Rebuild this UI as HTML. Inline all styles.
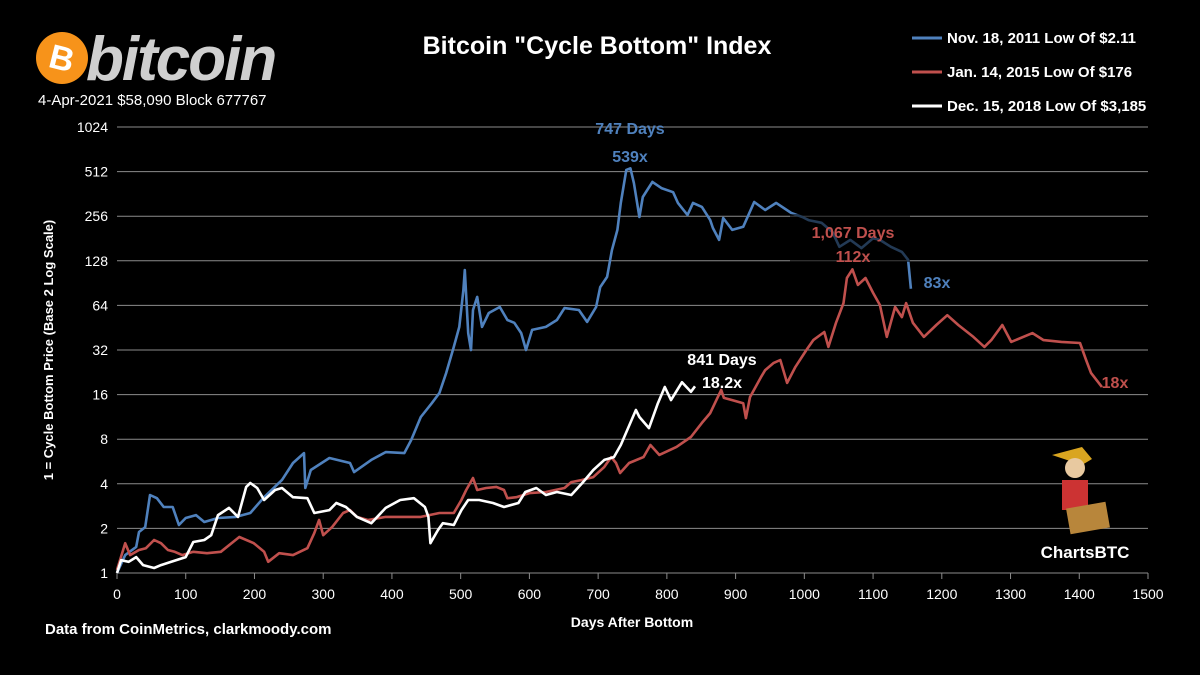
<!DOCTYPE html>
<html><head><meta charset="utf-8"><style>
html,body{margin:0;padding:0;background:#000;}
svg{display:block;font-family:"Liberation Sans",Arial,sans-serif;}
</style></head><body>
<svg id="chart" width="1200" height="675" viewBox="0 0 1200 675">
<rect width="1200" height="675" fill="#000"/>
<g>
<circle cx="62" cy="58" r="26" fill="#f7931a"/>
<text x="62" y="70" text-anchor="middle" fill="#fff" font-size="34" font-weight="bold" transform="rotate(14 62 58)">B</text>
<text x="86" y="80" fill="#cfcfcf" font-size="62" font-weight="bold" font-style="italic" letter-spacing="-2">bitcoin</text>
</g>
<text x="38" y="105" fill="#fff" font-size="15">4-Apr-2021 $58,090 Block 677767</text>
<text x="597" y="54" text-anchor="middle" fill="#fff" font-size="25" font-weight="bold">Bitcoin "Cycle Bottom" Index</text>
<g id="grid"></g>
<g id="yticks"></g>
<g id="xticks"></g>
<text transform="translate(53 350) rotate(-90)" text-anchor="middle" fill="#fff" font-size="13" font-weight="bold">1 = Cycle Bottom Price  (Base 2 Log Scale)</text>
<text x="632" y="627" text-anchor="middle" fill="#fff" font-size="14" font-weight="bold">Days After Bottom</text>
<text x="45" y="634" fill="#fff" font-size="15" font-weight="bold">Data from CoinMetrics, clarkmoody.com</text>
<g id="series"></g>
<g>
<g><line x1="912" y1="38" x2="942" y2="38" stroke="#4f81bd" stroke-width="3"/><text x="947" y="43" fill="#fff" font-size="15" font-weight="bold">Nov. 18, 2011 Low Of $2.11</text></g>
<g><line x1="912" y1="72" x2="942" y2="72" stroke="#c0504d" stroke-width="3"/><text x="947" y="77" fill="#fff" font-size="15" font-weight="bold">Jan. 14, 2015 Low Of $176</text></g>
<g><line x1="912" y1="106" x2="942" y2="106" stroke="#fff" stroke-width="3"/><text x="947" y="111" fill="#fff" font-size="15" font-weight="bold">Dec. 15, 2018 Low Of $3,185</text></g>
</g>
<g font-size="16" font-weight="bold" text-anchor="middle">
<text x="630" y="134" fill="#4f81bd">747 Days</text>
<text x="630" y="162" fill="#4f81bd">539x</text>
<text x="853" y="238" fill="#c0504d">1,067 Days</text>
<text x="853" y="262" fill="#c0504d">112x</text>
<text x="937" y="288" fill="#4f81bd">83x</text>
<text x="722" y="365" fill="#fff">841 Days</text>
<text x="722" y="388" fill="#fff">18.2x</text>
<text x="1115" y="388" fill="#c0504d">18x</text>
</g>
<g>
<path d="M1052 455 l30 -8 l10 12 l-10 6 z" fill="#d9a520"/>
<circle cx="1075" cy="468" r="10" fill="#e8c9a0"/>
<rect x="1062" y="480" width="26" height="30" fill="#c33"/>
<rect x="1068" y="505" width="40" height="26" fill="#b8863b" transform="rotate(-10 1088 518)"/>
<text x="1085" y="558" text-anchor="middle" fill="#fff" font-size="17" font-weight="bold">ChartsBTC</text>
</g>
</svg>
<script>
const yTickLabels=[1,2,4,8,16,32,64,128,256,512,1024];
const xTickLabels=[0,100,200,300,400,500,600,700,800,900,1000,1100,1200,1300,1400,1500];
const days2011=[0,12,28,32,41,48,58,68,81,90,100,115,127,147,173,194,214,240,256,272,274,282,309,339,345,370,391,418,428,442,458,469,479,490,498,504,506,511,515,518,524,531,541,557,568,578,588,595,604,624,640,651,672,684,697,703,713,720,728,733,741,747,752,760,765,779,792,809,816,830,838,851,863,867,876,882,895,911,927,943,959,981,997,1006,1025,1041,1051,1067,1083,1100,1110,1126,1142,1151,1155];
const values2011=[1,1.32,1.5,1.89,2.04,3.36,3.2,2.79,2.79,2.11,2.35,2.46,2.21,2.35,2.39,2.54,3.25,4.25,5.53,6.45,3.75,4.96,5.97,5.53,4.8,5.8,6.55,6.45,7.9,11.3,14,16.4,22.4,33.6,45.8,81.5,111,41.6,32,59.6,73,45.8,56.9,62.4,51,48.8,41.6,32,43.7,45.8,51,61.4,59.6,49.5,62.4,85,99.6,151,207,315,526,539,428,253,345,436,396,372,315,261,315,296,241,213,177,249,207,217,319,282,315,269,253,241,231,200,159,177,156,182,177,159,147,130,83];
const days2015=[0,12,19,32,42,54,64,74,84,95,111,131,151,178,199,214,220,236,256,277,287,294,300,313,329,339,349,365,391,418,442,469,490,501,508,518,524,537,552,563,568,581,600,624,651,661,677,693,709,719,726,732,745,766,776,789,814,835,851,863,879,883,895,911,915,921,937,943,955,965,975,987,1003,1013,1029,1035,1046,1057,1062,1070,1078,1089,1100,1110,1120,1132,1142,1148,1158,1174,1192,1208,1224,1246,1262,1272,1288,1301,1332,1348,1374,1401,1410,1417,1433];
const values2015=[1.05,1.59,1.32,1.43,1.47,1.67,1.59,1.43,1.39,1.32,1.39,1.36,1.39,1.75,1.59,1.39,1.19,1.36,1.32,1.47,1.86,2.28,1.8,2.04,2.54,2.66,2.39,2.28,2.39,2.39,2.39,2.54,2.54,3.11,3.63,4.38,3.63,3.75,3.81,3.63,3.2,3.25,3.46,3.52,3.75,4.11,4.25,4.44,5.2,6.06,5.53,4.73,5.53,6.06,7.31,6.27,7.1,8.28,10.3,12,17.2,15.2,14.7,14,11.1,15.4,21,23.4,26.1,27.4,19.2,24.6,32,37.3,42.3,33.6,48.8,66.3,97.9,112,88,97.9,77.7,64.4,39.2,62.4,53.4,66.3,48.8,39.2,47.2,55,47.2,39.2,33.6,37.3,47.2,36.3,41.6,37.3,36.3,35.7,27.4,22.4,18];
const days2018=[0,6,17,28,38,54,64,79,100,111,127,137,147,163,176,188,194,204,214,230,240,256,277,287,309,319,333,349,370,391,412,432,448,453,456,467,474,490,501,511,527,547,563,584,594,610,624,640,661,677,693,709,723,733,755,760,774,787,797,806,822,835,841];
const values2018=[1,1.22,1.19,1.28,1.13,1.08,1.13,1.19,1.28,1.62,1.67,1.8,2.46,2.75,2.39,3.81,4.05,3.75,3.11,3.63,3.75,3.25,3.2,2.54,2.66,2.97,2.79,2.39,2.17,2.75,3.11,3.2,2.79,2.39,1.59,1.95,2.17,2.11,2.66,3.11,3.11,2.97,2.79,2.97,3.52,3.75,3.36,3.52,3.36,4.05,4.96,5.8,6.06,7.31,12.6,11.3,9.5,14,18,14.7,19.4,16.7,18.2];

const NS="http://www.w3.org/2000/svg";
const X0=117,X1=1148,Y0=573,Y1=127;
function xScale(d){return X0+(d/1500)*(X1-X0);}
function yScale(v){return Y0-(Math.log2(v)/10)*(Y0-Y1);}
function mk(tag,attrs,parent){const e=document.createElementNS(NS,tag);for(const k in attrs)e.setAttribute(k,attrs[k]);parent.appendChild(e);return e;}

const grid=document.getElementById('grid'),yt=document.getElementById('yticks'),xt=document.getElementById('xticks');
yTickLabels.forEach(v=>{
  const y=yScale(v);
  if(v>1){const l=mk('line',{x1:X0,x2:X1,y1:y,y2:y,stroke:'#8c8c8c','stroke-width':1},grid);
  
  }
  const t=mk('text',{x:108,y:y+5,'text-anchor':'end',fill:'#fff','font-size':14},yt);
  t.textContent=v;
  
  
});
mk('line',{x1:X0,x2:X1,y1:Y0,y2:Y0,stroke:'#8c8c8c','stroke-width':1},xt);
xTickLabels.forEach(d=>{
  const x=xScale(d);
  mk('line',{x1:x,x2:x,y1:Y0,y2:Y0+6,stroke:'#8c8c8c','stroke-width':1},xt);
  const t=mk('text',{x:x,y:599,'text-anchor':'middle',fill:'#fff','font-size':14},xt);
  t.textContent=d;
  
  
});
const ser=document.getElementById('series');
function drawLine(days,vals,color,name){
  const pts=days.map((d,i)=>xScale(d).toFixed(1)+','+yScale(vals[i]).toFixed(1)).join(' ');
  const p=mk('polyline',{points:pts,fill:'none',stroke:color,'stroke-width':2.6,'stroke-linejoin':'round'},ser);
  
  
}
drawLine(days2011,values2011,'#4f81bd','line-2011-cycle');
const ov=mk('rect',{x:790,y:214,width:120,height:48,fill:'#000','fill-opacity':0.55},ser);


drawLine(days2015,values2015,'#c0504d','line-2015-cycle');
drawLine(days2018,values2018,'#ffffff','line-2018-cycle');
</script>
</body></html>
